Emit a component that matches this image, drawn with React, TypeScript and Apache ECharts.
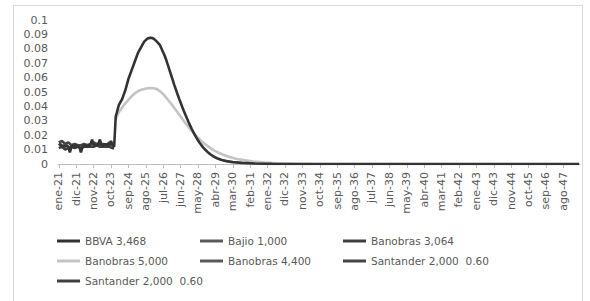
import React, { useEffect, useRef } from "react";
import * as echarts from "echarts";

const monthNames = ["ene", "feb", "mar", "abr", "may", "jun", "jul", "ago", "sep", "oct", "nov", "dic"];
const startYear = 21;
const monthCount = 330;
const categories: string[] = Array.from(
  { length: monthCount },
  (_, i) => `${monthNames[i % 12]}-${startYear + Math.floor(i / 12)}`
);

const yTicks = { min: 0, max: 0.1, interval: 0.01 };

// [month index, value]
const bbva: [number, number][] = [
  [0, 0.013], [1, 0.014], [2, 0.012], [3, 0.013], [4, 0.012], [5, 0.013], [6, 0.012], [7, 0.008],
  [8, 0.012], [9, 0.013], [10, 0.012], [11, 0.013], [12, 0.012], [13, 0.012], [14, 0.008], [15, 0.012],
  [16, 0.013], [17, 0.013], [18, 0.012], [19, 0.013], [20, 0.013], [21, 0.017], [22, 0.013], [23, 0.013],
  [24, 0.013], [25, 0.014], [26, 0.017], [27, 0.013], [28, 0.013], [29, 0.014], [30, 0.013], [31, 0.014],
  [32, 0.013], [33, 0.016], [34, 0.013], [35, 0.012],
  [36, 0.033], [37, 0.037], [38, 0.041], [39, 0.043], [40, 0.045], [41, 0.048], [42, 0.051], [43, 0.055],
  [44, 0.059], [45, 0.062], [46, 0.065], [47, 0.068], [48, 0.071], [49, 0.074], [50, 0.077], [51, 0.079],
  [52, 0.081], [53, 0.083], [54, 0.085], [55, 0.086], [56, 0.087], [57, 0.0875], [58, 0.0877], [59, 0.0875],
  [60, 0.087], [61, 0.086], [62, 0.085], [63, 0.0838], [64, 0.0825], [65, 0.08], [66, 0.0775], [67, 0.075],
  [68, 0.072], [69, 0.0686], [70, 0.0652], [71, 0.0618], [72, 0.0584], [73, 0.055], [74, 0.0518], [75, 0.0486],
  [76, 0.0456], [77, 0.0427], [78, 0.0398], [79, 0.037], [80, 0.0343], [81, 0.0317], [82, 0.0292], [83, 0.0268],
  [84, 0.0245], [85, 0.0223], [86, 0.0202], [87, 0.0183], [88, 0.0165], [89, 0.0148], [90, 0.0133], [91, 0.0119],
  [92, 0.0106], [94, 0.0084], [96, 0.0066], [98, 0.0051], [100, 0.004], [103, 0.0028], [106, 0.002], [110, 0.0013],
  [116, 0.0008], [124, 0.0003], [135, 0.0001], [150, 0], [329, 0],
];

const bajio: [number, number][] = [];

const banobras3064: [number, number][] = [
  [0, 0.011], [2, 0.012], [4, 0.01], [6, 0.011], [8, 0.012], [10, 0.011], [12, 0.012], [14, 0.011],
  [16, 0.012], [18, 0.012], [20, 0.012], [22, 0.012], [24, 0.013], [26, 0.012], [28, 0.012], [30, 0.012],
  [32, 0.012], [34, 0.011], [35, 0.011],
];

const banobras5000: [number, number][] = [
  [36, 0.031], [37, 0.034], [38, 0.036], [40, 0.039], [42, 0.042], [44, 0.0445], [46, 0.047], [48, 0.049],
  [50, 0.0505], [52, 0.0515], [54, 0.052], [56, 0.0526], [58, 0.0528], [60, 0.0526], [62, 0.052], [64, 0.0505],
  [66, 0.0485], [68, 0.046], [70, 0.0432], [72, 0.0405], [74, 0.0375], [76, 0.0345], [78, 0.0315], [80, 0.0285],
  [82, 0.0257], [84, 0.023], [86, 0.0205], [88, 0.0182], [90, 0.016], [92, 0.0142], [95, 0.0117], [98, 0.0095],
  [101, 0.0078], [104, 0.0064], [108, 0.0048], [112, 0.0037], [117, 0.0027], [123, 0.0017], [130, 0.001],
  [138, 0.0005], [148, 0.0002], [160, 0],
];

const banobras4400: [number, number][] = [];

const santanderA: [number, number][] = [
  [0, 0.015], [2, 0.016], [4, 0.014], [6, 0.015], [8, 0.013], [10, 0.014], [12, 0.013], [14, 0.013],
  [16, 0.014], [18, 0.013], [20, 0.014], [22, 0.015], [24, 0.014], [26, 0.013], [28, 0.014], [30, 0.013],
  [32, 0.015], [34, 0.013], [35, 0.014],
];

const santanderB: [number, number][] = [];

const names = {
  bbva: "BBVA 3,468",
  bajio: "Bajio 1,000",
  b3064: "Banobras 3,064",
  b5000: "Banobras 5,000",
  b4400: "Banobras 4,400",
  santA: "Santander 2,000  0.60",
  santB: "Santander 2,000  0.60 ",
};

const FONT = "DejaVu Sans";
const TXT = "#595959";

export default function App() {
  const ref = useRef<HTMLDivElement>(null);
  useEffect(() => {
    if (!ref.current) return;
    const chart = echarts.init(ref.current, undefined, { renderer: "svg" });
    const mk = (name: string, data: [number, number][], color: string, z = 3) => ({
      type: "line",
      name,
      data,
      color,
      z,
      showSymbol: false,
      symbol: "none",
      lineStyle: { color, width: 2.6 },
      emphasis: { disabled: true },
    });
    const legendBase = {
      orient: "vertical",
      icon: "rect",
      padding: 0,
      itemWidth: 23,
      itemHeight: 3,
      itemGap: 6,
      textStyle: { color: TXT, fontFamily: FONT, fontSize: 10.5, lineHeight: 14 },
      top: 234,
    };
    chart.setOption({
      animation: false,
      graphic: [
        {
          type: "rect",
          shape: { x: 13.5, y: 5.5, width: 569, height: 300 },
          style: { fill: "none", stroke: "#d9d9d9", lineWidth: 1 },
          silent: true,
        },
      ],
      grid: { left: 58, right: 10, top: 20, bottom: 137 },
      xAxis: {
        type: "category",
        data: categories,
        boundaryGap: true,
        axisLine: { lineStyle: { color: "#bfbfbf", width: 1 } },
        axisTick: { show: true, interval: 10, alignWithLabel: true, length: 4, lineStyle: { color: "#bfbfbf" } },
        axisLabel: { interval: 10, rotate: 90, color: TXT, fontFamily: FONT, fontSize: 11, margin: 8 },
        splitLine: { show: false },
      },
      yAxis: {
        type: "value",
        min: yTicks.min,
        max: yTicks.max,
        interval: yTicks.interval,
        axisLine: { show: false },
        axisTick: { show: false },
        splitLine: { show: false },
        axisLabel: { color: TXT, fontFamily: FONT, fontSize: 11, margin: 10 },
      },
      legend: [
        { ...legendBase, left: 57, data: [names.bbva, names.b5000, names.santB] },
        { ...legendBase, left: 200, data: [names.bajio, names.b4400] },
        { ...legendBase, left: 343, data: [names.b3064, names.santA] },
      ],
      series: [
        mk(names.bbva, bbva, "#333333", 4),
        mk(names.bajio, bajio, "#5a5a5a"),
        mk(names.b3064, banobras3064, "#404040"),
        mk(names.b5000, banobras5000, "#c4c4c4", 2),
        mk(names.b4400, banobras4400, "#5a5a5a"),
        mk(names.santA, santanderA, "#444444"),
        mk(names.santB, santanderB, "#404040"),
      ],
    });
    return () => chart.dispose();
  }, []);
  return (
    <div
      ref={ref}
      style={{ position: "fixed", left: 0, top: 0, width: 590, height: 301, background: "#fff" }}
    />
  );
}
